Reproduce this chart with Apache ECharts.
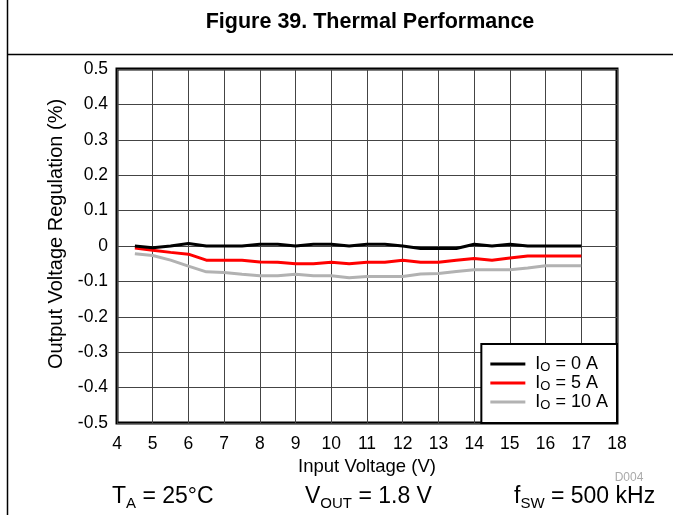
<!DOCTYPE html>
<html>
<head>
<meta charset="utf-8">
<script src="https://cdn.jsdelivr.net/npm/echarts@6/dist/echarts.min.js"></script>
<style>
html,body{margin:0;padding:0;background:#fff;}
#c{width:673px;height:515px;}
</style>
</head>
<body>
<div id="c"></div>
<script>
// Input voltage (V)
var vin = [4.5,5,5.5,6,6.5,7,7.5,8,8.5,9,9.5,10,10.5,11,11.5,12,12.5,13,13.5,14,14.5,15,15.5,16,16.5,17];
// Output voltage regulation (%) for IO = 0 A
var io0A = [0,-0.005,0,0.007,0,0,0,0.005,0.005,0,0.005,0.005,0,0.005,0.005,0,-0.007,-0.007,-0.007,0.005,0,0.005,0,0,0,0];
// IO = 5 A
var io5A = [-0.006,-0.012,-0.018,-0.023,-0.04,-0.04,-0.04,-0.045,-0.046,-0.05,-0.05,-0.046,-0.05,-0.046,-0.046,-0.04,-0.046,-0.046,-0.04,-0.035,-0.04,-0.034,-0.028,-0.028,-0.028,-0.028];
// IO = 10 A
var io10A = [-0.022,-0.027,-0.04,-0.057,-0.073,-0.075,-0.08,-0.084,-0.084,-0.08,-0.084,-0.084,-0.09,-0.086,-0.086,-0.086,-0.079,-0.078,-0.072,-0.067,-0.067,-0.067,-0.062,-0.056,-0.056,-0.056];
var seriesNames = ['IO = 0 A','IO = 5 A','IO = 10 A'];
var legendLabels = {'IO = 0 A':' = 0 A','IO = 5 A':' = 5 A','IO = 10 A':' = 10 A'};

var FONT = '"Liberation Sans", Arial, sans-serif';
function pairs(ys){ return vin.map(function(x,i){ return [x, ys[i]]; }); }

var chart = echarts.init(document.getElementById('c'), null, {renderer:'canvas'});
var subRich = function(main, sub){
  return {
    m:{fontFamily:FONT,fontSize:main,color:'#000',lineHeight:main+6,verticalAlign:'middle'},
    s:{fontFamily:FONT,fontSize:sub,color:'#000',lineHeight:sub,verticalAlign:'bottom'}
  };
};
chart.setOption({
  animation:false,
  backgroundColor:'#fff',
  grid:{left:117,top:69,right:56,bottom:92,show:true,borderColor:'#000',borderWidth:3,backgroundColor:'transparent',containLabel:false},
  xAxis:{
    type:'value',min:4,max:18,interval:1,
    name:'Input Voltage (V)',nameLocation:'middle',nameGap:33,
    nameTextStyle:{fontFamily:FONT,fontSize:18.5,color:'#000'},
    axisLine:{show:false},axisTick:{show:false},
    axisLabel:{fontFamily:FONT,fontSize:17.5,color:'#000',margin:12},
    splitLine:{show:true,lineStyle:{color:'#444',width:1}}
  },
  yAxis:{
    type:'value',min:-0.5,max:0.5,interval:0.1,
    name:'Output Voltage Regulation (%)',nameLocation:'middle',nameGap:51,nameRotate:90,
    nameTextStyle:{fontFamily:FONT,fontSize:20,color:'#000',padding:[0,0,0,24]},
    axisLine:{show:false},axisTick:{show:false},
    axisLabel:{fontFamily:FONT,fontSize:17.5,color:'#000',margin:9,
      formatter:function(v){ return Math.abs(v)<1e-9 ? '0' : (Math.round(v*10)/10).toFixed(1); }},
    splitLine:{show:true,lineStyle:{color:'#444',width:1}}
  },
  legend:{
    orient:'vertical',right:56,bottom:92,
    data:seriesNames,
    icon:'rect',itemWidth:35,itemHeight:3,itemGap:0,
    padding:[11,9,11,9],
    borderColor:'#000',borderWidth:2,backgroundColor:'#fff',
    formatter:function(n){ return '{g| }{m|I}{s|O}{m|'+legendLabels[n]+'}'; },
    textStyle:{rich:{
      g:{fontFamily:FONT,fontSize:12,width:5,lineHeight:20},
      m:{fontFamily:FONT,fontSize:18,color:'#000',lineHeight:20},
      s:{fontFamily:FONT,fontSize:13,color:'#000',lineHeight:13,verticalAlign:'bottom'}
    }}
  },
  series:[
    {name:seriesNames[0],type:'line',data:pairs(io0A),symbol:'none',lineStyle:{color:'#000',width:3},itemStyle:{color:'#000'},z:4},
    {name:seriesNames[1],type:'line',data:pairs(io5A),symbol:'none',lineStyle:{color:'#ff0000',width:3},itemStyle:{color:'#ff0000'},z:3},
    {name:seriesNames[2],type:'line',data:pairs(io10A),symbol:'none',lineStyle:{color:'#b2b2b2',width:3},itemStyle:{color:'#b2b2b2'},z:2}
  ],
  graphic:[
    {type:'line',shape:{x1:7.5,y1:0,x2:7.5,y2:515},style:{stroke:'#000',lineWidth:1.5},silent:true},
    {type:'line',shape:{x1:7,y1:54.5,x2:673,y2:54.5},style:{stroke:'#000',lineWidth:1.5},silent:true},
    {type:'text',x:370,y:22,style:{text:'Figure 39. Thermal Performance',font:'bold 21.5px '+FONT,fill:'#000',align:'center',verticalAlign:'middle'}},
    {type:'text',x:629,y:478,style:{text:'D004',font:'12px '+FONT,fill:'#aaa',align:'center',verticalAlign:'middle'}},
    {type:'text',x:112,y:497,style:{text:'{m|T}{s|A}{m| = 25°C}',rich:subRich(23,15),verticalAlign:'middle',align:'left'}},
    {type:'text',x:305,y:497,style:{text:'{m|V}{s|OUT}{m| = 1.8 V}',rich:subRich(23,15),verticalAlign:'middle',align:'left'}},
    {type:'text',x:514,y:497,style:{text:'{m|f}{s|SW}{m| = 500 kHz}',rich:subRich(23,15),verticalAlign:'middle',align:'left'}}
  ]
});
</script>
</body>
</html>
